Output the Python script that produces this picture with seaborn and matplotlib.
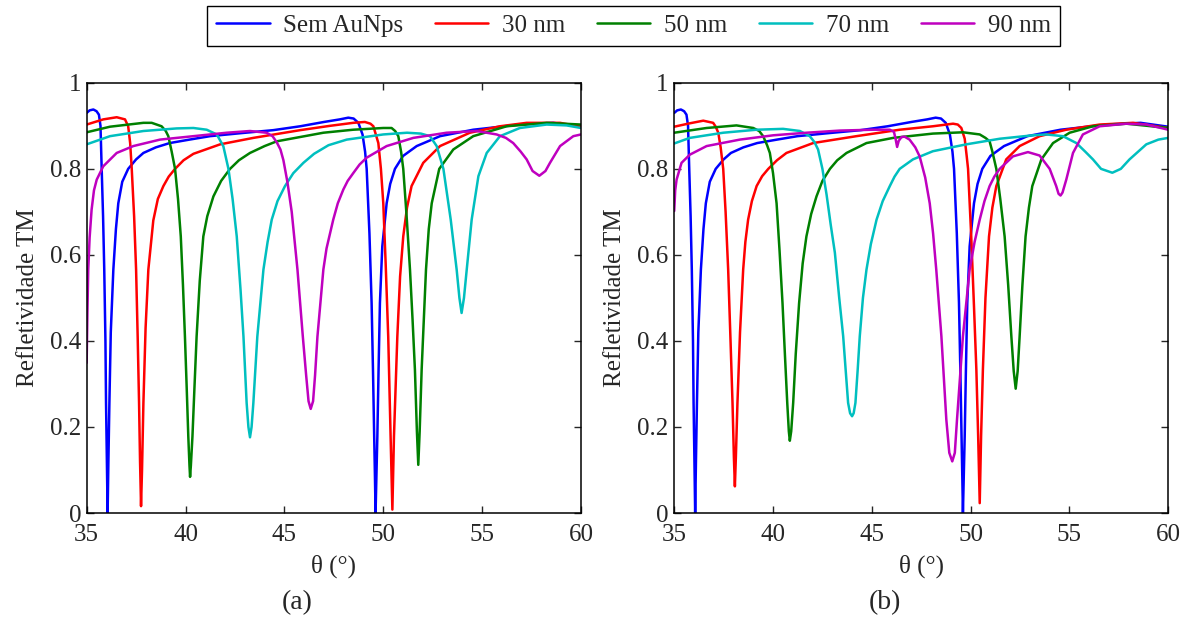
import pandas as pd
import numpy as np
import matplotlib
matplotlib.use("Agg")
import matplotlib.pyplot as plt
from matplotlib.lines import Line2D
import seaborn as sns

# curve names and colours
labels = ['Sem AuNps', '30 nm', '50 nm', '70 nm', '90 nm']
colors = ['#0000ff', '#ff0000', '#008000', '#00bfbf', '#bf00bf']

# (theta, R) points
blue = [(35.0, 0.930), (35.15, 0.936), (35.34, 0.938), (35.5, 0.934), (35.62, 0.926), (35.7, 0.90),
        (35.76, 0.80), (35.83, 0.69), (35.89, 0.566), (35.95, 0.40), (35.98, 0.256), (36.02, 0.13),
        (36.06, 0.0), (36.1, 0.12), (36.15, 0.256), (36.22, 0.42), (36.35, 0.566), (36.48, 0.66),
        (36.6, 0.72), (36.8, 0.77), (37.1, 0.80), (37.5, 0.822), (37.87, 0.837), (38.5, 0.85),
        (39.2, 0.86), (40.2, 0.868), (41.24, 0.876), (42.8, 0.883), (44.44, 0.89), (45.8, 0.899),
        (47.0, 0.909), (47.8, 0.915), (48.23, 0.919), (48.5, 0.917), (48.74, 0.907), (48.95, 0.88),
        (49.08, 0.84), (49.16, 0.80), (49.3, 0.65), (49.41, 0.488), (49.48, 0.33), (49.54, 0.178),
        (49.58, 0.08), (49.61, 0.0), (49.65, 0.08), (49.70, 0.178), (49.76, 0.33), (49.83, 0.488),
        (49.95, 0.62), (50.17, 0.72), (50.35, 0.765), (50.59, 0.80), (51.0, 0.83), (51.69, 0.853),
        (52.87, 0.876), (54.55, 0.891), (56.9, 0.903), (58.6, 0.907), (60.0, 0.898)]

red_a = [(35.0, 0.903), (35.84, 0.915), (36.52, 0.920), (36.94, 0.915), (37.1, 0.899), (37.2, 0.86),
         (37.28, 0.80), (37.4, 0.69), (37.5, 0.566), (37.58, 0.41), (37.65, 0.256), (37.7, 0.12),
         (37.75, 0.016), (37.8, 0.10), (37.87, 0.256), (37.98, 0.43), (38.12, 0.566), (38.37, 0.68),
         (38.6, 0.73), (38.88, 0.76), (39.15, 0.782), (39.47, 0.80), (39.9, 0.82), (40.4, 0.835),
         (41.75, 0.857), (43.43, 0.872), (45.8, 0.89), (47.3, 0.90), (48.48, 0.907), (49.07, 0.909),
         (49.35, 0.905), (49.5, 0.899), (49.75, 0.86), (49.88, 0.80), (50.0, 0.72), (50.12, 0.58),
         (50.25, 0.41), (50.37, 0.178), (50.46, 0.008), (50.54, 0.178), (50.71, 0.41), (50.85, 0.55),
         (51.01, 0.643), (51.2, 0.71), (51.43, 0.76), (52.02, 0.814), (52.87, 0.853), (54.38, 0.884),
         (55.9, 0.899), (57.25, 0.907), (58.94, 0.907), (60.0, 0.898)]

green_a = [(35.0, 0.885), (36.18, 0.898), (37.87, 0.907), (38.29, 0.907), (38.79, 0.899), (39.0, 0.888),
           (39.13, 0.876), (39.3, 0.84), (39.47, 0.80), (39.62, 0.73), (39.76, 0.643), (39.87, 0.53),
           (39.97, 0.41), (40.06, 0.29), (40.14, 0.178), (40.2, 0.11), (40.23, 0.084), (40.27, 0.11),
           (40.35, 0.178), (40.45, 0.29), (40.56, 0.41), (40.72, 0.54), (40.9, 0.643), (41.1, 0.69),
           (41.41, 0.736), (41.8, 0.772), (42.25, 0.80), (42.7, 0.82), (43.26, 0.837), (44.0, 0.853),
           (44.61, 0.864), (46.97, 0.884), (48.48, 0.891), (50.0, 0.895), (50.42, 0.895), (50.6, 0.888),
           (50.76, 0.876), (50.9, 0.84), (51.01, 0.80), (51.18, 0.69), (51.35, 0.566), (51.48, 0.45),
           (51.6, 0.333), (51.7, 0.19), (51.77, 0.112), (51.84, 0.19), (51.94, 0.333), (52.05, 0.45),
           (52.16, 0.566), (52.3, 0.66), (52.45, 0.72), (52.83, 0.80), (53.54, 0.845), (54.55, 0.876),
           (56.24, 0.899), (58.26, 0.907), (60.0, 0.903)]

cyan_a = [(35.0, 0.857), (36.18, 0.876), (37.87, 0.888), (39.55, 0.894), (40.4, 0.895), (41.07, 0.891),
          (41.58, 0.88), (41.91, 0.853), (42.17, 0.80), (42.38, 0.73), (42.59, 0.643), (42.78, 0.52),
          (42.93, 0.41), (43.09, 0.256), (43.18, 0.20), (43.26, 0.176), (43.34, 0.20), (43.43, 0.256),
          (43.63, 0.41), (43.94, 0.566), (44.15, 0.63), (44.36, 0.682), (44.65, 0.725), (45.03, 0.76),
          (45.45, 0.79), (45.96, 0.814), (46.5, 0.835), (47.23, 0.855), (48.15, 0.868), (50.0, 0.88),
          (51.2, 0.884), (51.9, 0.882), (52.36, 0.876), (52.7, 0.853), (53.04, 0.80), (53.41, 0.682),
          (53.71, 0.566), (53.85, 0.50), (53.96, 0.465), (54.08, 0.50), (54.22, 0.566), (54.47, 0.682),
          (54.81, 0.783), (55.23, 0.837), (55.9, 0.876), (56.91, 0.895), (58.26, 0.903), (59.27, 0.901),
          (60.0, 0.895)]

magenta_a = [(35.0, 0.349), (35.04, 0.47), (35.08, 0.566), (35.15, 0.64), (35.25, 0.705), (35.37, 0.75),
             (35.51, 0.775), (35.84, 0.806), (36.52, 0.837), (37.36, 0.853), (38.71, 0.868), (40.4, 0.876),
             (42.08, 0.884), (43.26, 0.888), (44.1, 0.884), (44.4, 0.876), (44.61, 0.862), (44.8, 0.845),
             (44.95, 0.82), (45.15, 0.77), (45.37, 0.70), (45.66, 0.566), (45.93, 0.411), (46.1, 0.32),
             (46.22, 0.26), (46.33, 0.242), (46.45, 0.26), (46.55, 0.32), (46.67, 0.41), (46.97, 0.566),
             (47.13, 0.615), (47.47, 0.682), (47.7, 0.72), (47.98, 0.752), (48.2, 0.772), (48.48, 0.79),
             (48.8, 0.81), (49.16, 0.826), (50.17, 0.853), (51.52, 0.872), (53.2, 0.884), (54.72, 0.888),
             (55.73, 0.88), (56.2, 0.872), (56.57, 0.86), (56.95, 0.84), (57.25, 0.822), (57.55, 0.795),
             (57.89, 0.784), (58.2, 0.795), (58.43, 0.814), (58.94, 0.853), (59.61, 0.876), (60.0, 0.88)]

red_b = [(35.0, 0.898), (35.8, 0.906), (36.47, 0.912), (36.97, 0.907), (37.1, 0.898), (37.23, 0.884),
         (37.35, 0.85), (37.48, 0.80), (37.6, 0.70), (37.73, 0.566), (37.85, 0.40), (37.95, 0.256),
         (38.02, 0.13), (38.07, 0.062), (38.12, 0.13), (38.2, 0.256), (38.33, 0.42), (38.49, 0.566),
         (38.6, 0.63), (38.74, 0.682), (38.93, 0.725), (39.17, 0.76), (39.45, 0.783), (39.76, 0.80),
         (40.2, 0.82), (40.68, 0.837), (42.03, 0.86), (44.22, 0.876), (46.41, 0.891), (48.09, 0.899),
         (49.11, 0.905), (49.35, 0.903), (49.53, 0.895), (49.7, 0.87), (49.8, 0.83), (49.87, 0.80),
         (50.03, 0.643), (50.17, 0.48), (50.29, 0.333), (50.38, 0.18), (50.46, 0.023), (50.53, 0.18),
         (50.62, 0.333), (50.75, 0.50), (50.93, 0.643), (51.1, 0.71), (51.3, 0.76), (51.8, 0.822),
         (52.48, 0.853), (53.49, 0.876), (54.84, 0.891), (56.53, 0.903), (58.21, 0.907), (60.0, 0.895)]

green_b = [(35.0, 0.884), (36.64, 0.895), (38.15, 0.901), (39.0, 0.895), (39.3, 0.888), (39.5, 0.876),
           (39.7, 0.855), (39.84, 0.837), (40.0, 0.79), (40.18, 0.72), (40.33, 0.61), (40.48, 0.488),
           (40.6, 0.37), (40.72, 0.256), (40.8, 0.19), (40.85, 0.168), (40.92, 0.19), (41.02, 0.256),
           (41.15, 0.37), (41.32, 0.488), (41.5, 0.58), (41.69, 0.643), (41.93, 0.695), (42.2, 0.736),
           (42.5, 0.772), (42.88, 0.80), (43.25, 0.82), (43.72, 0.837), (44.73, 0.86), (46.08, 0.872),
           (48.09, 0.882), (49.61, 0.885), (50.46, 0.88), (50.75, 0.872), (50.96, 0.864), (51.1, 0.84),
           (51.3, 0.80), (51.5, 0.73), (51.72, 0.643), (51.9, 0.53), (52.06, 0.411), (52.18, 0.33),
           (52.28, 0.289), (52.38, 0.33), (52.48, 0.411), (52.62, 0.53), (52.78, 0.643), (52.95, 0.71),
           (53.12, 0.76), (53.58, 0.822), (54.17, 0.86), (55.01, 0.884), (56.19, 0.899), (57.88, 0.905),
           (60.0, 0.895)]

cyan_b = [(35.0, 0.859), (35.79, 0.872), (37.48, 0.884), (39.17, 0.891), (40.51, 0.893), (41.36, 0.888),
          (41.86, 0.876), (42.1, 0.862), (42.28, 0.845), (42.5, 0.80), (42.71, 0.74), (42.92, 0.67),
          (43.13, 0.605), (43.35, 0.50), (43.55, 0.411), (43.68, 0.33), (43.8, 0.256), (43.9, 0.232),
          (44.0, 0.225), (44.08, 0.232), (44.17, 0.256), (44.28, 0.33), (44.39, 0.411), (44.55, 0.50),
          (44.73, 0.566), (44.95, 0.625), (45.24, 0.682), (45.55, 0.725), (45.91, 0.76), (46.15, 0.782),
          (46.41, 0.80), (47.08, 0.822), (48.09, 0.841), (49.78, 0.857), (51.47, 0.87), (53.15, 0.878),
          (53.83, 0.88), (54.67, 0.876), (55.35, 0.86), (55.8, 0.84), (56.19, 0.822), (56.6, 0.80),
          (57.17, 0.791), (57.6, 0.80), (58.04, 0.822), (58.89, 0.857), (59.5, 0.868), (60.0, 0.872)]

magenta_b = [(35.0, 0.702), (35.05, 0.75), (35.12, 0.775), (35.37, 0.814), (35.79, 0.833), (36.64, 0.853),
             (38.32, 0.868), (40.01, 0.878), (41.69, 0.884), (43.38, 0.889), (45.07, 0.891), (45.91, 0.891),
             (46.12, 0.886), (46.2, 0.87), (46.28, 0.851), (46.36, 0.865), (46.5, 0.874), (46.65, 0.875),
             (46.91, 0.868), (47.2, 0.85), (47.42, 0.829), (47.7, 0.78), (47.93, 0.72), (48.1, 0.65),
             (48.26, 0.566), (48.52, 0.411), (48.77, 0.217), (48.92, 0.14), (49.07, 0.12), (49.2, 0.14),
             (49.31, 0.217), (49.61, 0.411), (49.95, 0.566), (50.2, 0.63), (50.46, 0.682), (50.7, 0.725),
             (50.96, 0.76), (51.2, 0.782), (51.47, 0.80), (52.14, 0.829), (52.9, 0.839), (53.49, 0.831),
             (54.0, 0.80), (54.33, 0.76), (54.45, 0.742), (54.55, 0.738), (54.65, 0.745), (54.84, 0.775),
             (55.18, 0.837), (55.68, 0.88), (56.53, 0.899), (57.88, 0.905), (58.89, 0.903), (60.0, 0.891)]

x_ticks = [35, 40, 45, 50, 55, 60]
y_ticks = [0, 0.2, 0.4, 0.6, 0.8, 1]
y_ticklabels = ['0', '0.2', '0.4', '0.6', '0.8', '1']


def to_frame(curves):
    rows = []
    for name, pts in zip(labels, curves):
        for t, r in pts:
            rows.append({'theta': t, 'R': r, 'curve': name})
    return pd.DataFrame(rows)


sns.set_style('ticks')
plt.rcParams['font.family'] = ['Liberation Serif', 'DejaVu Serif']

fig = plt.figure(figsize=(11.87, 6.19), dpi=100)
ax_a = fig.add_axes([0.073, 0.1712, 0.4165, 0.695])
ax_b = fig.add_axes([0.568, 0.1712, 0.4162, 0.695])

panels = [(ax_a, [blue, red_a, green_a, cyan_a, magenta_a], '(a)', 0.250),
          (ax_b, [blue, red_b, green_b, cyan_b, magenta_b], '(b)', 0.7456)]

for ax, curves, tag, tx in panels:
    df = to_frame(curves)
    sns.lineplot(data=df, x='theta', y='R', hue='curve', hue_order=labels, palette=colors,
                 estimator=None, sort=False, linewidth=1.8, legend=False, ax=ax)
    ax.set_xlim(35, 60)
    ax.set_ylim(0, 1)
    ax.set_xticks(x_ticks)
    ax.set_yticks(y_ticks)
    ax.set_yticklabels(y_ticklabels)
    ax.tick_params(direction='in', top=True, right=True, length=5, width=1, labelsize=18)
    ax.tick_params(axis='x', pad=8)
    ax.tick_params(axis='y', pad=4)
    for s in ax.spines.values():
        s.set_linewidth(1.1)
        s.set_color('black')
    ax.set_xlabel('θ (°)', fontsize=18, labelpad=6)
    ax.set_ylabel('Refletividade TM', fontsize=18, labelpad=8)
    fig.text(tx, 0.027, tag, fontsize=20, ha='center', va='center')

handles = [Line2D([0], [0], color=c, lw=1.8) for c in colors]
fig.legend(handles, labels, loc='center', bbox_to_anchor=(0.5337, 0.958), ncol=5, fontsize=18,
           frameon=True, fancybox=False, edgecolor='black', framealpha=1, handlelength=2.15,
           handletextpad=0.55, columnspacing=1.25, borderpad=0.35)

fig.savefig('out.png', dpi=100)
